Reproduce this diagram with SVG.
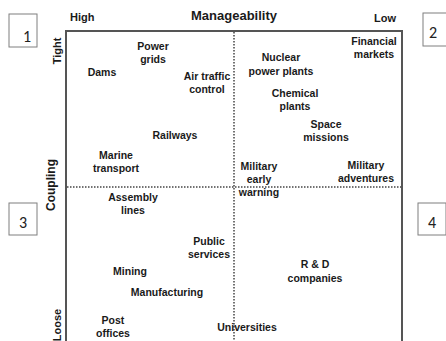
<svg xmlns="http://www.w3.org/2000/svg" width="446" height="341" viewBox="0 0 446 341">
<style>
.l{font-family:"Liberation Sans",Arial,sans-serif;font-weight:bold;font-size:10.5px;fill:#1a1a1a;text-anchor:middle}
.ax{font-family:"Liberation Sans",Arial,sans-serif;font-weight:bold;font-size:11px;fill:#1a1a1a}
.num{font-family:Carlito,"Liberation Sans",sans-serif;font-size:16px;fill:#222;text-anchor:middle}
.box{fill:#fff;stroke:#7f7f7f;stroke-width:1}
</style>
<rect width="446" height="341" fill="#fff"/>
<g id="frame">
<path d="M66,345 V31 H402 V345" fill="none" stroke="#555" stroke-width="2"/>
</g>
<g id="connectors">
<line x1="234" y1="32" x2="234" y2="341" stroke="#444" stroke-width="1.5" stroke-dasharray="1.5,1.5"/>
<line x1="67" y1="187" x2="401" y2="187" stroke="#444" stroke-width="1.5" stroke-dasharray="1.5,1.5"/>
</g>
<g id="axes">
<text class="ax" x="70" y="21">High</text>
<text class="ax" x="234" y="20" style="text-anchor:middle;font-size:13px">Manageability</text>
<text class="ax" x="374" y="22">Low</text>
<text class="ax" transform="translate(61,51) rotate(-90)" style="text-anchor:middle">Tight</text>
<text class="ax" transform="translate(55,185) rotate(-90)" style="text-anchor:middle;font-size:12px">Coupling</text>
<text class="ax" transform="translate(61,325) rotate(-90)" style="text-anchor:middle">Loose</text>
</g>
<g id="q1"><rect class="box" x="9" y="14" width="28" height="33"/><text class="num" x="27" y="42">1</text></g>
<g id="q2"><rect class="box" x="423" y="13" width="28" height="33"/><text class="num" x="433" y="38">2</text></g>
<g id="q3"><rect class="box" x="9" y="203" width="28" height="32"/><text class="num" x="23" y="228">3</text></g>
<g id="q4"><rect class="box" x="418" y="203" width="28" height="32"/><text class="num" x="432" y="228">4</text></g>
<g id="power-grids"><text class="l" x="153" y="50">Power</text><text class="l" x="153" y="63">grids</text></g>
<g id="dams"><text class="l" x="102" y="76">Dams</text></g>
<g id="air-traffic"><text class="l" x="207" y="80">Air traffic</text><text class="l" x="207" y="93">control</text></g>
<g id="nuclear"><text class="l" x="281" y="61">Nuclear</text><text class="l" x="281" y="75">power plants</text></g>
<g id="financial"><text class="l" x="374" y="45">Financial</text><text class="l" x="374" y="58">markets</text></g>
<g id="chemical"><text class="l" x="295" y="97">Chemical</text><text class="l" x="295" y="110">plants</text></g>
<g id="space"><text class="l" x="326" y="128">Space</text><text class="l" x="326" y="141">missions</text></g>
<g id="railways"><text class="l" x="175" y="139">Railways</text></g>
<g id="marine"><text class="l" x="116" y="159">Marine</text><text class="l" x="116" y="172">transport</text></g>
<g id="military-early"><text class="l" x="259" y="170">Military</text><text class="l" x="259" y="183">early</text><text class="l" x="259" y="196">warning</text></g>
<g id="military-adv"><text class="l" x="366" y="169">Military</text><text class="l" x="366" y="182">adventures</text></g>
<g id="assembly"><text class="l" x="133" y="201">Assembly</text><text class="l" x="133" y="214">lines</text></g>
<g id="public"><text class="l" x="209" y="245">Public</text><text class="l" x="209" y="258">services</text></g>
<g id="mining"><text class="l" x="130" y="275">Mining</text></g>
<g id="manufacturing"><text class="l" x="167" y="296">Manufacturing</text></g>
<g id="post"><text class="l" x="113" y="324">Post</text><text class="l" x="113" y="337">offices</text></g>
<g id="universities"><text class="l" x="247" y="331">Universities</text></g>
<g id="rd"><text class="l" x="315" y="268">R &amp; D</text><text class="l" x="315" y="282">companies</text></g>
</svg>
